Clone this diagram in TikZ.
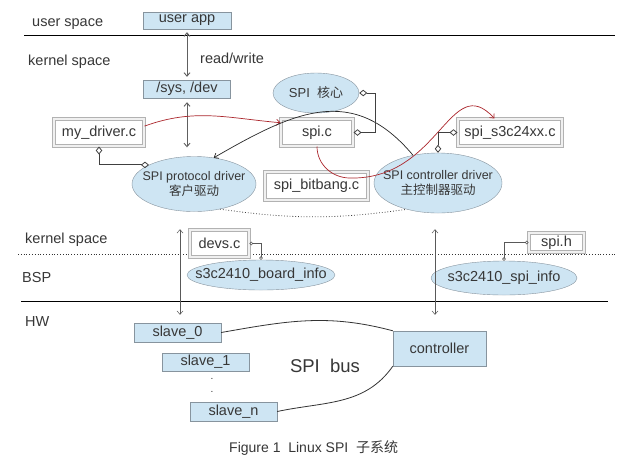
\documentclass[tikz,border=0pt]{standalone}
\usepackage{fontspec}
\setmainfont{Liberation Sans}
\newfontfamily\cjk{Noto Sans CJK SC}
\usetikzlibrary{shapes.geometric}
\usetikzlibrary{arrows.meta}
\definecolor{boxblue}{RGB}{206,229,243}
\definecolor{edgegray}{RGB}{135,148,158}
\definecolor{txtgray}{RGB}{55,55,55}
\definecolor{darkred}{RGB}{172,38,44}
\tikzset{>={Straight Barb[length=3.5pt,width=6pt]}}
\tikzset{
	% boxes
	bluebox/.style={draw=edgegray,fill=boxblue,inner sep=0pt,text=txtgray,font=\fontsize{14.5}{17}\selectfont},
	srcbox/.style={draw=gray!60,double=gray!12,double distance=1.4pt,line width=1pt,fill=white,inner sep=0pt,text=txtgray,font=\fontsize{14.5}{17}\selectfont},
	bubble/.style={ellipse,draw=edgegray,fill=boxblue,inner xsep=-14pt,inner ysep=0pt,text=txtgray,align=center,font=\fontsize{12.5}{14.5}\selectfont},
	% labels
	lbl/.style={anchor=west,inner sep=0pt,text=txtgray,font=\fontsize{14.5}{17}\selectfont},
	% line style
	dblarrow/.style={<->,draw=gray!75!black,line width=0.9pt},
	thinarrow/.style={<->,draw=gray!70!black,line width=0.5pt},
	redarrow/.style={->,draw=darkred,line width=0.7pt},
	callarrow/.style={->,draw=black!85,line width=0.7pt},
	hasa/.style={{Diamond[open,length=8pt,width=6.5pt]}-{Diamond[open,length=8pt,width=6.5pt]},draw=black!75,line width=0.8pt},
	plug/.style={{Circle[open,length=3.5pt]}-{Circle[open,length=3.5pt]},draw=gray!70!black,line width=0.6pt},
	busline/.style={draw=black!80,line width=0.8pt},
}
\begin{document}
\begin{tikzpicture}[x=1pt,y=1pt]
	\path[fill=white] (0,0) rectangle (637,-467);
	\useasboundingbox (0,0) rectangle (637,-467);
	
	% layers
	\draw[line width=0.9pt] (24,-35) -- (615,-35);
	\draw[dotted,line width=0.8pt,black!80] (18,-254) -- (615,-254);
	\draw[line width=0.9pt] (21,-301) -- (608,-301);
	\node[lbl] (userlbl) at (32,-24) {user space};
	\node[lbl] (kernlbl) at (28,-62) {kernel space};
	\node[lbl] (rwlbl) at (200,-58) {read/write};
	\node[lbl] (kernlbl2) at (25,-240) {kernel space};
	\node[lbl] (bsplbl) at (22,-277) {BSP};
	\node[lbl] (hwlbl) at (25,-322) {HW};
	
	% user and kernel
	\node[bluebox,minimum width=88,minimum height=17] (userapp) at (187,-20.5) {user app};
	\node[bluebox,minimum width=87,minimum height=18] (sysdev) at (187,-89) {/sys, /dev};
	\node[srcbox,minimum width=90,minimum height=27] (mydrv) at (99,-132.5) {my\_driver.c};
	\node[srcbox,minimum width=72,minimum height=27] (spic) at (317,-132.5) {spi.c};
	\node[srcbox,minimum width=104,minimum height=27] (s3c24xx) at (510,-132.5) {spi\_s3c24xx.c};
	\node[srcbox,minimum width=103,minimum height=28] (bitbang) at (316.5,-186) {spi\_bitbang.c};
	\node[bubble,minimum width=86,minimum height=40,font=\fontsize{13}{15}\selectfont] (core) at (316,-93) {SPI\ \ {\cjk 核心}};
	\node[bubble,minimum width=124,minimum height=55] (proto) at (194,-184) {SPI protocol driver\\{\cjk 客户驱动}};
	\node[bubble,minimum width=128,minimum height=60] (ctrl) at (438,-183) {SPI controller driver\\{\cjk 主控制器驱动}};
	
	% BSP
	\node[srcbox,minimum width=59,minimum height=27] (devs) at (219.5,-243.5) {devs.c};
	\node[bubble,minimum width=148,minimum height=30,font=\fontsize{14.5}{17}\selectfont] (board) at (261,-275) {s3c2410\_board\_info};
	\node[srcbox,minimum width=55,minimum height=19] (spih) at (556.5,-242.5) {spi.h};
	\node[bubble,minimum width=146,minimum height=34,font=\fontsize{14.5}{17}\selectfont] (spiinfo) at (504,-278) {s3c2410\_spi\_info};
	
	% HW
	\node[bluebox,minimum width=87,minimum height=19] (slave0) at (177.5,-332.5) {slave\_0};
	\node[bluebox,minimum width=87,minimum height=18] (slave1) at (205.5,-362) {slave\_1};
	\node[bluebox,minimum width=87,minimum height=19] (slaven) at (233.5,-411.5) {slave\_n};
	\node[inner sep=0pt,text=txtgray] (dot1) at (212,-379) {.};
	\node[inner sep=0pt,text=txtgray] (dot2) at (212,-392) {.};
	\node[bluebox,minimum width=93,minimum height=35] (controller) at (439.5,-348.5) {controller};
	\node[text=txtgray,font=\fontsize{18.5}{21}\selectfont] (buslbl) at (325,-366) {SPI\ \ bus};
	\node[lbl,font=\fontsize{14}{16}\selectfont] (caption) at (229,-448) {Figure 1\ \ Linux SPI\ \ {\cjk 子系统}};
	
	% connectors
	\draw[dblarrow,shorten <=3,shorten >=3] (userapp.south) -- (sysdev.north);
	\draw[dblarrow,shorten <=4,shorten >=9] (sysdev.south) -- (sysdev.south |- proto.north);
	\draw[redarrow] (mydrv.8) to[out=20,in=175] (spic.165);
	\draw[callarrow] (ctrl.132) to[out=130,in=30,looseness=1.2] (proto.53);
	\coordinate (redlow) at (350,-178);
	\draw[redarrow] (spic.south) to[out=-90,in=180] (redlow) .. controls (440,-180) and (450,-70) .. (s3c24xx.138);
	\draw[hasa] (mydrv.south) |- (proto.157);
	\draw[hasa] (core.east) -- ++(16,0) |- (spic.east);
	\draw[hasa] (s3c24xx.west) -| (ctrl.north);
	\draw[dotted,line width=0.8pt,black!75] (proto.-44) to[bend right=8] (ctrl.-140);
	\draw[plug] (devs.east) -| (board.north);
	\draw[plug] (spih.west) -| (spiinfo.north);
	\draw[thinarrow,shorten <=8,shorten >=17.5] ([xshift=2.5]slave0.north) -- ([xshift=2.5]slave0.north |- proto.south);
	\draw[thinarrow,shorten <=16,shorten >=16] ([xshift=-4.5]controller.north) -- ([xshift=-4.5]controller.north |- ctrl.south);
	\draw[busline] (slave0.east) to[out=10,in=165] (controller.north west);
	\draw[busline] (slaven.east) to[out=12,in=-125] (controller.south west);
\end{tikzpicture}
\end{document}
